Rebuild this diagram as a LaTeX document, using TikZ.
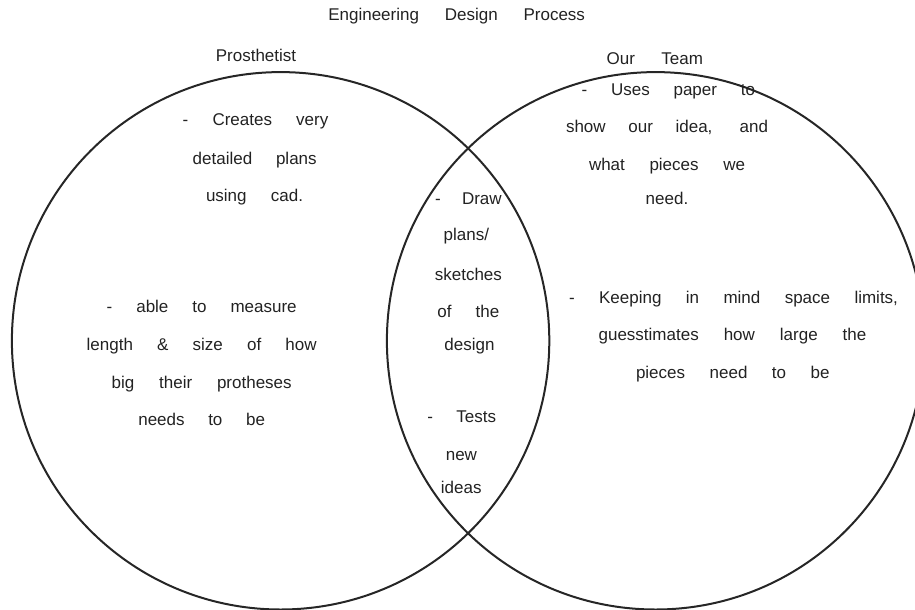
\documentclass[tikz,border=0pt]{standalone}
\usepackage{fontspec}
\setmainfont{Liberation Sans}
\definecolor{ink}{HTML}{222222}
\definecolor{rim}{HTML}{262626}
\tikzset{
  set/.style={circle, draw=rim, line width=2pt, minimum size=537.4pt, inner sep=0pt},
  txt/.style={anchor=base west, inner sep=0pt, outer sep=0pt, text=ink,
              font=\fontsize{17}{20}\selectfont},
  word/.style={anchor=base, inner sep=0pt, outer sep=0pt, text=ink,
               font=\fontsize{17}{20}\selectfont}
}
% a line of words spread out to a given width
\newcommand\spread[2]{\makebox[#1pt][s]{#2}}
\begin{document}
\begin{tikzpicture}[x=1pt,y=-1pt]
\useasboundingbox (0,0) rectangle (915,610);
\clip (0,0) rectangle (915,610);

% the two overlapping sets
\node[set] (prost) at (280.6,340.8) {};
\node[set] (team)  at (655.6,340.8) {};

% heading and set labels
\node[txt] (title) at (328.3,21) {\spread{256.7}{Engineering Design Process}};
\node[word] (lprost) at (256,61) {Prosthetist};
\node[txt] (lteam) at (606.7,65) {\spread{96.3}{Our Team}};

% prosthetist only
\node[txt] (p1) at (182.7,125.7) {\spread{145.6}{- Creates very}};
\node[txt] (p2) at (192.7,164.3) {\spread{124}{detailed plans}};
\node[txt] (p3) at (206,201.7)   {\spread{97}{using cad.}};
\node[txt] (p4) at (106.7,312.3) {\spread{190}{- able to measure}};
\node[txt] (p5) at (86.7,350)    {\spread{230}{length \& size of how}};
\node[txt] (p6) at (111.7,388.3) {\spread{180}{big their protheses}};
\node[txt] (p7) at (138.3,425)   {\spread{126.7}{needs to be}};

% shared by both
\node[txt]  (b1) at (435,204)    {\spread{66.7}{- Draw}};
\node[word] (b2) at (466.4,240)  {plans/};
\node[word] (b3) at (468.4,280)  {sketches};
\node[txt]  (b4) at (437.3,317)  {\spread{62}{of the}};
\node[word] (b5) at (469.5,350)  {design};
\node[txt]  (b6) at (427.3,422)  {\spread{68.7}{- Tests}};
\node[word] (b7) at (461.4,460)  {new};
\node[word] (b8) at (461.2,493)  {ideas};

% our team only
\node[txt]  (t1) at (581.7,95)   {\spread{173.3}{- Uses paper to}};
\node[txt]  (t2) at (566,132.7)  {\spread{202}{show our idea, and}};
\node[txt]  (t3) at (589,170.7)  {\spread{156}{what pieces we}};
\node[word] (t4) at (667,204)    {need.};
\node[txt]  (t5) at (569,303)    {\spread{329}{- Keeping in mind space limits,}};
\node[txt]  (t6) at (598.6,340.7){\spread{267.8}{guesstimates how large the}};
\node[txt]  (t7) at (636,378)    {\spread{193.6}{pieces need to be}};
\end{tikzpicture}
\end{document}
